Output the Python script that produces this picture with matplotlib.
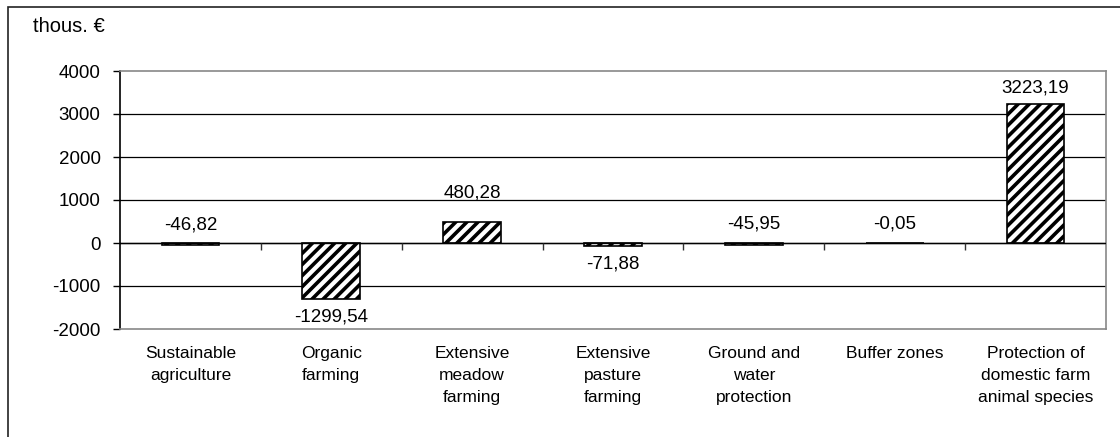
import matplotlib
matplotlib.use("Agg")
import matplotlib.pyplot as plt
from matplotlib.patches import Rectangle

plt.rcParams['font.family'] = ['Liberation Sans', 'DejaVu Sans']
plt.rcParams['hatch.linewidth'] = 2.6

categories = ["Sustainable\nagriculture", "Organic\nfarming", "Extensive\nmeadow\nfarming",
              "Extensive\npasture\nfarming", "Ground and\nwater\nprotection", "Buffer zones",
              "Protection of\ndomestic farm\nanimal species"]
values = [-46.82, -1299.54, 480.28, -71.88, -45.95, -0.05, 3223.19]
label_side = ["above", "below", "above", "below", "above", "above", "above"]
label_offset_pt = [13, 13, 21, 13, 14, 14, 12]
yticks = [-2000, -1000, 0, 1000, 2000, 3000, 4000]

fig = plt.figure(figsize=(11.2, 4.37), dpi=100)
ax = fig.add_axes([120/1120, 1-329/437, (1106-120)/1120, (329-71)/437])

# outer frame
fig.patches.append(Rectangle((8/1120, -0.2), 1.2, 1.2 - 7/437, transform=fig.transFigure,
                             fill=False, edgecolor='#222222', lw=1.2, zorder=0))

x = list(range(len(values)))
ax.set_xlim(-0.5, len(values) - 0.5)
ax.set_ylim(-2000, 4000)

for y in yticks[1:-1]:
    ax.axhline(y, color='black', lw=0.9, zorder=1)

ax.bar(x, values, width=0.41, color='white', edgecolor='black', hatch='///', lw=1.2, zorder=3)
ax.axhline(0, color='black', lw=1.0, zorder=4)

# category boundary ticks on zero line
bounds = [i + 0.5 for i in range(len(values) - 1)]
ax.plot(bounds, [0] * len(bounds), ls='none', marker=3, ms=5, mew=1.0, color='#333333', zorder=4)

for xi, v, side, off in zip(x, values, label_side, label_offset_pt):
    txt = f"{v:.2f}".replace('.', ',')
    if side == "above":
        ax.annotate(txt, (xi, max(v, 0)), xytext=(0, off), textcoords='offset points',
                    ha='center', va='center', fontsize=13.5)
    else:
        ax.annotate(txt, (xi, min(v, 0)), xytext=(0, -off), textcoords='offset points',
                    ha='center', va='center', fontsize=13.5)

ax.set_yticks(yticks)
ax.set_yticklabels([str(t) for t in yticks], fontsize=13.5)
ax.tick_params(axis='y', length=5, width=1, pad=9, direction='out', colors='black')
ax.set_xticks(x)
ax.set_xticklabels(categories, fontsize=12.5, linespacing=1.6, va='top')
ax.tick_params(axis='x', length=0, pad=12)

for s in ['top', 'right', 'bottom']:
    ax.spines[s].set_color('#888888')
    ax.spines[s].set_linewidth(1.2)
ax.spines['left'].set_color('black')
ax.spines['left'].set_linewidth(1.2)

fig.text(33/1120, 1 - 26/437, "thous. €", fontsize=14.5, va='center', ha='left')

fig.savefig("out.png", dpi=100)
